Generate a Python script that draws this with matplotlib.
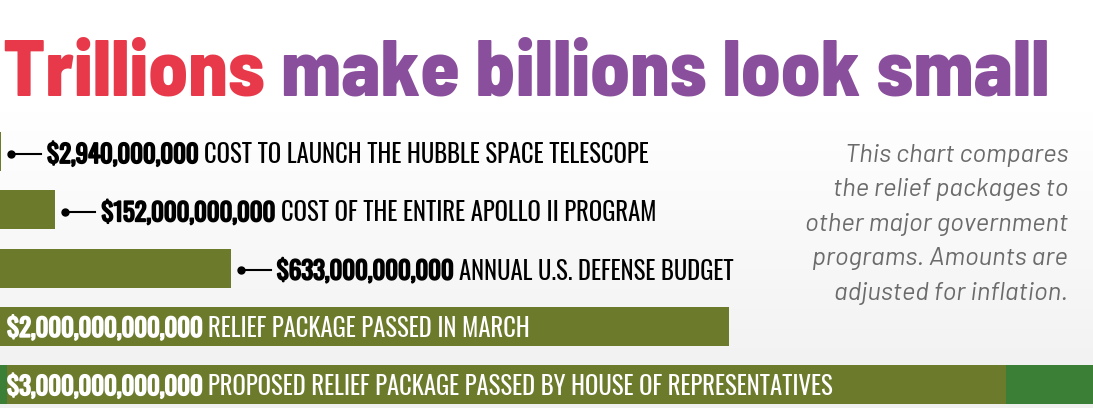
import matplotlib
matplotlib.use("Agg")
import matplotlib.pyplot as plt
import matplotlib.transforms as mtransforms
import matplotlib.patheffects as pe
import numpy as np

# data
amounts = [2.94e9, 152e9, 633e9, 2.0e12, 3.0e12]
amount_labels = ["$2,940,000,000", "$152,000,000,000", "$633,000,000,000",
                 "$2,000,000,000,000", "$3,000,000,000,000"]
descriptions = ["COST TO LAUNCH THE HUBBLE SPACE TELESCOPE",
                "COST OF THE ENTIRE APOLLO II PROGRAM",
                "ANNUAL U.S. DEFENSE BUDGET",
                "RELIEF PACKAGE PASSED IN MARCH",
                "PROPOSED RELIEF PACKAGE PASSED BY HOUSE OF REPRESENTATIVES"]
label_inside = [False, False, False, True, True]
title_parts = ["Trillions", "make billions look small"]
note_lines = ["This chart compares", "the relief packages to", "other major government",
              "programs. Amounts are", "adjusted for inflation."]

OLIVE = "#6c7a2c"
GREEN = "#3b7e36"
RED = "#e8394a"
PURPLE = "#8a4f9c"
AMOUNT_FONT = "Oswald"
DESC_FONT = "Oswald"
TITLE_FONT = "Barlow Semi Condensed"
NOTE_FONT = "Barlow"

W, H = 1093, 408
fig = plt.figure(figsize=(W / 100, H / 100), dpi=100)
renderer = fig.canvas.get_renderer()

# background: white on top, fading to light grey
bg = fig.add_axes([0, 0, 1, 1], zorder=0)
grad = np.clip((np.arange(H) - 110) / (H - 110), 0, 1).reshape(-1, 1)
cmap = matplotlib.colors.LinearSegmentedColormap.from_list("bg", ["#ffffff", "#f0f0f0"])
bg.imshow(grad, aspect="auto", cmap=cmap, extent=[0, 1, 0, 1], origin="upper")
bg.axis("off")

ax = fig.add_axes([0, 0, 1, 1], zorder=1)
ax.patch.set_alpha(0)
ax.set_xlim(0, 3.0e12 * W / 1093.5)
ax.set_ylim(4.403, -2.601)     # row i centred at 151.5 + 58.25*i px
ax.axis("off")

ypos = np.arange(len(amounts))
ax.barh(ypos[:4], amounts[:4], height=0.67, color=OLIVE, zorder=2)
# last bar: green full bar with olive overlay
ax.barh(ypos[4], amounts[4], height=0.67, color=GREEN, zorder=2)
ax.barh(ypos[4], 2.74e12, left=0.02e12, height=0.67, color=OLIVE, zorder=3)


def off(x, y):
    return mtransforms.offset_copy(ax.transData, fig=fig, x=x, y=y, units="dots")


# fit label size so that the first row spans about 602 px
fs = 20
GAP = 6
probe1 = fig.text(0, 0, amount_labels[0], fontsize=fs, family=AMOUNT_FONT)
probe2 = fig.text(0, 0, descriptions[0], fontsize=fs, family=DESC_FONT)
wtot = probe1.get_window_extent(renderer).width + GAP + probe2.get_window_extent(renderer).width
fs = fs * 602 / wtot
probe1.remove()
probe2.remove()

px = ax.transData.inverted().transform((1, 0))[0] - ax.transData.inverted().transform((0, 0))[0]
for i, (a, lab, desc, inside) in enumerate(zip(amounts, amount_labels, descriptions, label_inside)):
    if inside:
        tr = off(7, -10.5)
        x0, col = 0, "white"
    else:
        ax.plot([a + 10 * px], [i], transform=off(0, -2), marker="o", ms=5,
                color="black", zorder=4)
        ax.plot([a + 10 * px, a + 40 * px], [i, i], transform=off(0, -2),
                color="black", lw=1.5, zorder=4)
        tr = off(46, -11.5)
        x0, col = a, "black"
    # bold look for the amounts
    t1 = ax.text(x0, i, lab, transform=tr, fontsize=fs, family=AMOUNT_FONT,
                 color=col, va="baseline", ha="left", zorder=5,
                 path_effects=[pe.withStroke(linewidth=1.3, foreground=col)])
    bb = t1.get_window_extent(renderer)
    xpix, ypix = tr.transform((x0, i))
    fig.text((bb.x1 + GAP) / W, ypix / H, desc, fontsize=fs, family=DESC_FONT,
             color=col, va="baseline", ha="left", zorder=5)

# title, fitted to the reference width (x 3..1050 px, baseline at 95 px)
tfs = 60
t_a = fig.text(3 / W, (H - 95) / H, title_parts[0] + " ", fontsize=tfs, fontweight=800,
               family=TITLE_FONT, color=RED, va="baseline")
b1 = t_a.get_window_extent(renderer)
t_b = fig.text(b1.x1 / W, (H - 95) / H, title_parts[1], fontsize=tfs, fontweight=800,
               family=TITLE_FONT, color=PURPLE, va="baseline")
b2 = t_b.get_window_extent(renderer)
scale = (1050 - 3) / (b2.x1 - 3)
t_a.set_fontsize(tfs * scale)
t_b.set_fontsize(tfs * scale)
b1 = t_a.get_window_extent(renderer)
t_b.set_x(b1.x1 / W)

for k, line in enumerate(note_lines):
    fig.text(1068 / W, (H - (162 + 34.5 * k)) / H, line, fontsize=18.5, style="italic",
             family=NOTE_FONT, color="#6b6b6b", ha="right", va="baseline")

fig.savefig("out.png", dpi=100)
